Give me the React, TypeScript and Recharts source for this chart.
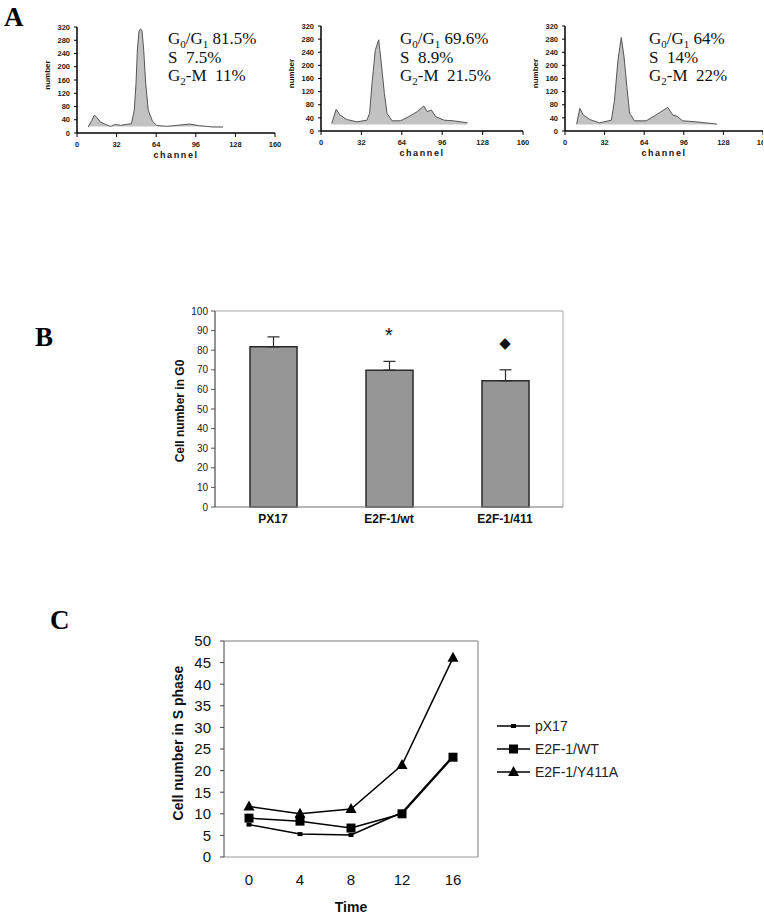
import React from 'react';
import {
  AreaChart,
  Area,
  ComposedChart,
  Bar,
  ErrorBar,
  Line,
  LineChart,
  XAxis,
  YAxis,
  Legend,
  ReferenceArea,
  CartesianGrid,
} from 'recharts';

const SANS = 'Arial, "Liberation Sans", Helvetica, sans-serif';
const SERIF = '"Times New Roman", "Liberation Serif", Times, serif';

// ---- panel A: cell cycle histograms ----
const HIST_X_TICKS = [0, 32, 64, 96, 128, 160];
const HIST_Y_TICKS = [0, 40, 80, 120, 160, 200, 240, 280, 320];

const A1_CHANNEL = [9, 12, 14, 16, 19, 23, 27, 31, 35, 40, 44, 46.3, 47.7, 48.8, 50.1, 51.2, 52.5, 53.9, 55.5, 57.6, 61, 64.4, 72.5, 83, 91, 99, 110, 118];
const A1_COUNT = [18, 38, 54, 47, 33, 26, 20, 26, 23, 26, 28, 69, 150, 251, 307, 314, 310, 251, 150, 69, 35, 23, 20, 24, 27, 22, 18, 18];

const A2_CHANNEL = [8.5, 12, 15, 20.4, 28.4, 36.4, 38.5, 40.4, 43, 45.7, 47.5, 50.2, 52.3, 56.3, 63, 69.6, 76.2, 81.5, 84, 87.4, 90.8, 97.5, 105, 116];
const A2_COUNT = [23, 66, 49, 35, 28, 33, 54, 145, 246, 278, 216, 114, 54, 31, 31, 44, 59, 76, 59, 64, 44, 33, 31, 25];

const A3_CHANNEL = [9.4, 12, 14.7, 20, 28, 37.5, 40, 42.8, 45.5, 47.7, 50, 52.2, 56.2, 65.6, 73.6, 83, 87, 91, 95, 105.8, 123];
const A3_COUNT = [21, 69, 49, 35, 25, 33, 94, 216, 285, 226, 135, 54, 31, 31, 49, 72, 49, 44, 31, 28, 21];

const G0G1_PCT = ['81.5%', '69.6%', '64%'];
const S_PCT = ['7.5%', '8.9%', '14%'];
const G2M_PCT = ['11%', '21.5%', '22%'];

// ---- panel B: G0 fraction ----
const B_GROUPS = ['PX17', 'E2F-1/wt', 'E2F-1/411'];
const B_G0 = [81.7, 69.8, 64.4];
const B_SD = [5.1, 4.5, 5.6];
const B_MARKS = ['', '*', '\u25C6'];
const B_TICKS = [0, 10, 20, 30, 40, 50, 60, 70, 80, 90, 100];

// ---- panel C: S phase time course ----
const C_TIME = ['0', '4', '8', '12', '16'];
const C_NAMES = ['pX17', 'E2F-1/WT', 'E2F-1/Y411A'];
const C_PX17 = [7.5, 5.3, 5.1, 10.3, 23.4];
const C_WT = [9.0, 8.3, 6.7, 10.0, 23.1];
const C_Y411A = [11.7, 10.0, 11.1, 21.3, 46.1];
const C_TICKS = [0, 5, 10, 15, 20, 25, 30, 35, 40, 45, 50];

const NB = '\u00a0';
const FRAME = '#a6a6a6';

function YTitle(props: any) {
  const { viewBox, text, dx = 0, dy = 0, size = 12, spacing = 0 } = props;
  if (!viewBox) return null;
  const x = viewBox.x + dx;
  const y = viewBox.y + viewBox.height / 2 + dy;
  return (
    <text
      x={x}
      y={y}
      transform={`rotate(-90 ${x} ${y})`}
      textAnchor="middle"
      dominantBaseline="central"
      fontFamily={SANS}
      fontWeight={700}
      fontSize={size}
      letterSpacing={spacing}
      fill="#111"
    >
      {text}
    </text>
  );
}

function XTitle(props: any) {
  const { viewBox, text, dy = 20, size = 12, spacing = 0 } = props;
  if (!viewBox) return null;
  return (
    <text
      x={viewBox.x + viewBox.width / 2}
      y={viewBox.y + dy}
      textAnchor="middle"
      dominantBaseline="central"
      fontFamily={SANS}
      fontWeight={700}
      fontSize={size}
      letterSpacing={spacing}
      fill="#111"
    >
      {text}
    </text>
  );
}

function Histogram(props: any) {
  const { left, top, width, height, right, channel, count } = props;
  const data = channel.map((c: number, i: number) => ({ ch: c, n: count[i] }));
  const tick = { fontSize: 7.5, fontWeight: 700, fontFamily: SANS, fill: '#222' };
  return (
    <div style={{ position: 'absolute', left, top }}>
      <AreaChart width={width} height={height} data={data} margin={{ top: 10, right, left: 10, bottom: 0 }}>
        <XAxis
          dataKey="ch"
          type="number"
          domain={[0, 160]}
          ticks={HIST_X_TICKS}
          interval={0}
          height={30}
          axisLine={{ stroke: '#000', strokeWidth: 1.5 }}
          tickLine={{ stroke: '#000' }}
          tickSize={4}
          tickMargin={5}
          tick={tick}
          label={<XTitle text="channel" dy={22} size={9} spacing={1.6} />}
        />
        <YAxis
          type="number"
          domain={[0, 320]}
          ticks={HIST_Y_TICKS}
          interval={0}
          width={30}
          axisLine={{ stroke: '#000', strokeWidth: 1.5 }}
          tickLine={{ stroke: '#000' }}
          tickSize={3}
          tickMargin={4}
          tick={tick}
          label={<YTitle text="number" dx={0} dy={-5} size={8} />}
        />
        <Area
          dataKey="n"
          type="linear"
          baseValue={20}
          fill="#c2c2c2"
          fillOpacity={1}
          stroke="#555"
          strokeWidth={1}
          dot={false}
          activeDot={false}
          isAnimationActive={false}
        />
      </AreaChart>
    </div>
  );
}

function PhaseText({ x, i }: { x: number; i: number }) {
  return (
    <g fontFamily={SERIF} fontSize={17} fill="#111">
      <text x={x} y={44}>
        G<tspan fontSize={11} dy={4}>0</tspan>
        <tspan dy={-4}>/G</tspan>
        <tspan fontSize={11} dy={4}>1</tspan>
        <tspan dy={-4}>{NB + G0G1_PCT[i]}</tspan>
      </text>
      <text x={x} y={62.5}>{'S' + NB + NB + S_PCT[i]}</text>
      <text x={x} y={80.5}>
        G<tspan fontSize={11} dy={4}>2</tspan>
        <tspan dy={-4}>{'-M' + NB + NB + G2M_PCT[i]}</tspan>
      </text>
    </g>
  );
}

function renderMark(props: any) {
  const { x, y, index } = props;
  const mark = B_MARKS[index];
  if (!mark) return null;
  if (mark === '*') {
    return (
      <text key={`m${index}`} x={x} y={y - 19} textAnchor="middle" fontFamily={SANS} fontSize={20} fill="#111">
        {mark}
      </text>
    );
  }
  return (
    <text key={`m${index}`} x={x} y={y - 22} textAnchor="middle" fontFamily='"DejaVu Sans", sans-serif' fontSize={15} fill="#111">
      {mark}
    </text>
  );
}

function marker(kind: number, cx: number, cy: number, key?: string) {
  if (kind === 0) return <rect key={key} x={cx - 2.5} y={cy - 2} width={5} height={4} fill="#000" />;
  if (kind === 1) return <rect key={key} x={cx - 4.5} y={cy - 4.5} width={9} height={9} fill="#000" />;
  return <polygon key={key} points={`${cx},${cy - 6} ${cx + 5.5},${cy + 4} ${cx - 5.5},${cy + 4}`} fill="#000" />;
}

function SeriesLegend() {
  return (
    <div style={{ fontFamily: SANS, fontSize: 14, color: '#222' }}>
      {C_NAMES.map((name, i) => (
        <div key={name} style={{ display: 'flex', alignItems: 'center', height: 23 }}>
          <svg width={38} height={14} style={{ display: 'block' }}>
            <line x1={0} x2={33} y1={7} y2={7} stroke="#000" strokeWidth={1.5} />
            {marker(i, 16.5, 7)}
          </svg>
          <span>{name}</span>
        </div>
      ))}
    </div>
  );
}

// plot-area frame (top and right edges) taken from the chart's own layout
const frameTop = (p: any) => [p.offset.top];
const frameRight = (p: any) => [p.offset.left + p.offset.width];

export default function App() {
  const bData = B_GROUPS.map((name, i) => ({ name, g0: B_G0[i], err: [0, B_SD[i]], top: B_G0[i] + B_SD[i] }));
  const cData = C_TIME.map((t, i) => ({ t, px17: C_PX17[i], wt: C_WT[i], y411a: C_Y411A[i] }));
  const seriesKeys = ['px17', 'wt', 'y411a'];

  return (
    <div style={{ position: 'absolute', left: 0, top: 0, width: 764, height: 916, background: '#fff', overflow: 'hidden' }}>
      <Histogram left={37} top={17} width={248} height={146} right={10} channel={A1_CHANNEL} count={A1_COUNT} />
      <Histogram left={281} top={16} width={252} height={145} right={10} channel={A2_CHANNEL} count={A2_COUNT} />
      <Histogram left={525} top={16} width={238} height={145} right={0} channel={A3_CHANNEL} count={A3_COUNT} />

      <div style={{ position: 'absolute', left: 155, top: 301 }}>
        <ComposedChart width={418} height={236} data={bData} margin={{ top: 10, right: 10, left: 15, bottom: 0 }}>
          <ReferenceArea y1={0} y2={100} fill="none" stroke={FRAME} strokeWidth={1} ifOverflow="visible" />
          <XAxis
            dataKey="name"
            height={30}
            axisLine={{ stroke: '#999' }}
            tickLine={false}
            tickSize={4}
            tickMargin={3}
            tick={{ fontSize: 12, fontWeight: 700, fontFamily: SANS, fill: '#111' }}
          />
          <YAxis
            domain={[0, 100]}
            ticks={B_TICKS}
            interval={0}
            width={45}
            axisLine={{ stroke: '#555' }}
            tickLine={{ stroke: '#555' }}
            tickSize={4}
            tickMargin={3}
            tick={{ fontSize: 10, fontFamily: SANS, fill: '#222' }}
            label={<YTitle text="Cell number in G0" dx={10} dy={2} size={12} />}
          />
          <Bar dataKey="g0" barSize={47} fill="#969696" stroke="#2a2a2a" strokeWidth={1.5} isAnimationActive={false}>
            <ErrorBar dataKey="err" width={6} stroke="#2a2a2a" strokeWidth={1.2} direction="y" />
          </Bar>
          <Line dataKey="top" stroke="none" dot={false} activeDot={false} label={renderMark} isAnimationActive={false} />
        </ComposedChart>
      </div>

      <div style={{ position: 'absolute', left: 154, top: 631 }}>
        <LineChart width={524} height={285} data={cData} margin={{ top: 10, right: 200, left: 10, bottom: 0 }}>
          <CartesianGrid
            stroke={FRAME}
            strokeWidth={1.5}
            horizontalCoordinatesGenerator={frameTop}
            verticalCoordinatesGenerator={frameRight}
          />
          <XAxis
            dataKey="t"
            height={59}
            padding={{ left: 25, right: 25 }}
            axisLine={{ stroke: '#999' }}
            tickLine={false}
            tickSize={6}
            tickMargin={11}
            tick={{ fontSize: 15, fontFamily: SANS, fill: '#111' }}
            label={<XTitle text="Time" dy={50} size={14} />}
          />
          <YAxis
            domain={[0, 50]}
            ticks={C_TICKS}
            interval={0}
            width={60}
            axisLine={{ stroke: '#444' }}
            tickLine={{ stroke: '#444' }}
            tickSize={4}
            tickMargin={9}
            tick={{ fontSize: 15, fontFamily: SANS, fill: '#111' }}
            label={<YTitle text="Cell number in S phase" dx={14} dy={-6} size={14} />}
          />
          {seriesKeys.map((k, i) => (
            <Line
              key={k}
              dataKey={k}
              name={C_NAMES[i]}
              type="linear"
              stroke="#000"
              strokeWidth={1.5}
              dot={(p: any) => marker(i, p.cx, p.cy, `${k}-${p.index}`)}
              activeDot={false}
              isAnimationActive={false}
            />
          ))}
          <Legend
            layout="horizontal"
            verticalAlign="middle"
            align="center"
            content={() => <SeriesLegend />}
            wrapperStyle={{ left: 343, top: 83, width: 170 }}
          />
        </LineChart>
      </div>

      <svg width={764} height={916} style={{ position: 'absolute', left: 0, top: 0, pointerEvents: 'none' }}>
        <g fontFamily={SERIF} fontWeight={700} fontSize={27} fill="#000">
          <text x={4} y={26}>A</text>
          <text x={35} y={346}>B</text>
          <text x={50} y={629}>C</text>
        </g>
        <PhaseText x={168} i={0} />
        <PhaseText x={400} i={1} />
        <PhaseText x={649} i={2} />
      </svg>
    </div>
  );
}
